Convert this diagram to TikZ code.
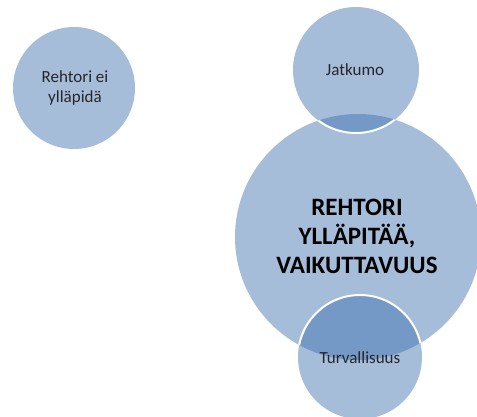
\documentclass[tikz,border=0pt]{standalone}
\usepackage{fontspec}
\setmainfont{Carlito}
\definecolor{cLight}{HTML}{A6BDDA}
\definecolor{cDark}{HTML}{7599C6}
\definecolor{cText}{HTML}{262626}
\begin{document}
\begin{tikzpicture}[x=1pt,y=-1pt,
  lbl/.style={align=center,text=cText,font=\fontsize{17}{20}\selectfont,inner sep=0pt},
  bigtxt/.style={align=center,text=black,font=\bfseries\fontsize{25}{29}\selectfont,inner sep=0pt},
  disc/.style={fill=cLight}]
\useasboundingbox (0,0) rectangle (477,417);
\clip (0,0) rectangle (477,417);
\coordinate (cA) at (74,88);
\coordinate (cJ) at (356,70);
\coordinate (cB) at (358,237);
\coordinate (cT) at (360,357);
\fill[disc] (cA) circle (61pt);
\fill[disc] (cB) circle (123pt);
\fill[disc] (cJ) circle (63pt);
\fill[disc] (cT) circle (62pt);
\begin{scope}
  \clip (cB) circle (123pt);
  \fill[cDark] (cJ) circle (63pt);
  \fill[cDark] (cT) circle (62pt);
  \draw[white, line width=2pt] (cJ) circle (63pt) (cT) circle (62pt);
\end{scope}
\node[lbl] (tA) at (75,88) {Rehtori ei\\ylläpidä};
\node[lbl] (tJ) at (355,70) {Jatkumo};
\node[bigtxt] (tB) at (357,236) {REHTORI\\YLLÄPITÄÄ,\\VAIKUTTAVUUS};
\node[lbl] (tT) at (360,358) {Turvallisuus};
\end{tikzpicture}
\end{document}
